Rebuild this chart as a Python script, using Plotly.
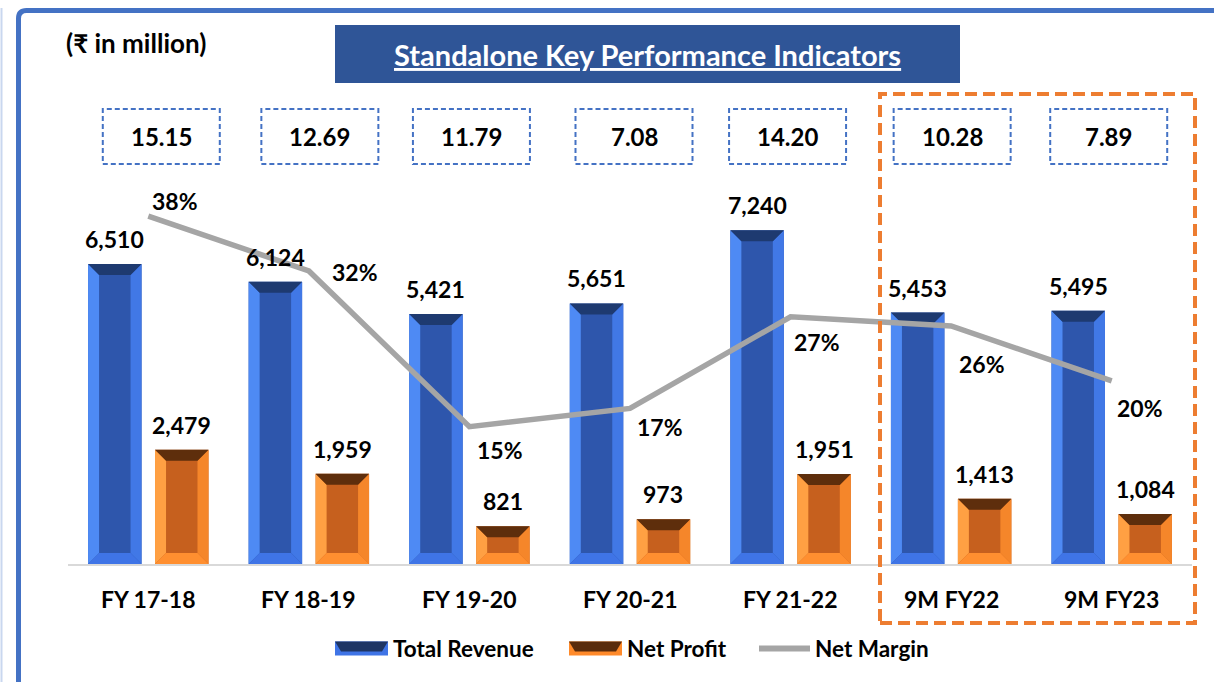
import plotly.graph_objects as go

# ---- data -------------------------------------------------------------
categories = ["FY 17-18", "FY 18-19", "FY 19-20", "FY 20-21", "FY 21-22", "9M FY22", "9M FY23"]
total_revenue = [6510, 6124, 5421, 5651, 7240, 5453, 5495]
net_profit = [2479, 1959, 821, 973, 1951, 1413, 1084]
net_margin_pct = [38, 32, 15, 17, 27, 26, 20]
eps_values = ["15.15", "12.69", "11.79", "7.08", "14.20", "10.28", "7.89"]

# ---- canvas geometry --------------------------------------------------
W, H = 1214, 682
L, R, T, B = 68, 22, 100, 118
PW, PH = W - L - R, H - T - B
Y_MAX = 10065      # revenue axis upper bound
Y2_MAX = 50.68     # margin axis upper bound (percent)
FONT = "Lato, 'Open Sans', sans-serif"

BAR_W = 0.333
REV_OFF, NP_OFF = -0.375, 0.042
BEVEL_PX = 11


def paper_x(px):
    return (px - L) / PW


def paper_y(py):
    return (H - B - py) / PH


idx = list(range(len(categories)))


def bevel_polys(values, offset):
    dx = BEVEL_PX * 7.0 / PW
    dy_full = BEVEL_PX * Y_MAX / PH
    parts = {"top": ([], []), "bottom": ([], []), "left": ([], []), "right": ([], [])}
    for i, h in zip(idx, values):
        x0 = i + offset
        x1 = x0 + BAR_W
        dy = min(dy_full, h * 0.45)
        polys = {
            "top": [(x0, h), (x1, h), (x1 - dx, h - dy), (x0 + dx, h - dy)],
            "bottom": [(x0, 0), (x1, 0), (x1 - dx, dy), (x0 + dx, dy)],
            "left": [(x0, 0), (x0, h), (x0 + dx, h - dy), (x0 + dx, dy)],
            "right": [(x1, 0), (x1, h), (x1 - dx, h - dy), (x1 - dx, dy)],
        }
        for k, pts in polys.items():
            xs, ys = parts[k]
            for px_, py_ in pts + [pts[0]]:
                xs.append(px_)
                ys.append(py_)
            xs.append(None)
            ys.append(None)
    return parts


def bevel_traces(values, offset, colors):
    parts = bevel_polys(values, offset)
    out = []
    for k in ["left", "right", "bottom", "top"]:
        xs, ys = parts[k]
        out.append(go.Scatter(
            x=xs, y=ys, mode="lines", fill="toself", fillcolor=colors[k],
            line=dict(width=0, color=colors[k]), hoverinfo="skip", showlegend=False,
        ))
    return out


REV_COLORS = dict(body="#2E56AC", top="#1E3A70", bottom="#3F74E6", left="#4E8AF4", right="#4178E6")
NP_COLORS = dict(body="#C6601E", top="#5E2E0C", bottom="#FF8F30", left="#FFA043", right="#F5862A")

fig = go.Figure()

fig.add_trace(go.Bar(
    x=idx, y=total_revenue, width=BAR_W, offset=REV_OFF, name="Total Revenue",
    marker=dict(color=REV_COLORS["body"], line=dict(width=0)), hoverinfo="skip", showlegend=False,
))
fig.add_trace(go.Bar(
    x=idx, y=net_profit, width=BAR_W, offset=NP_OFF, name="Net Profit",
    marker=dict(color=NP_COLORS["body"], line=dict(width=0)), hoverinfo="skip", showlegend=False,
))
for tr in bevel_traces(total_revenue, REV_OFF, REV_COLORS):
    fig.add_trace(tr)
for tr in bevel_traces(net_profit, NP_OFF, NP_COLORS):
    fig.add_trace(tr)

fig.add_trace(go.Scatter(
    x=idx, y=net_margin_pct, yaxis="y2", mode="lines", name="Net Margin",
    line=dict(color="#A5A5A5", width=5.5), hoverinfo="skip", showlegend=False,
))

annotations = []
black = dict(family=FONT, size=23, color="#000000")

# value labels over bars
for i, v in zip(idx, total_revenue):
    annotations.append(dict(x=i + REV_OFF + BAR_W / 2, y=v, xref="x", yref="y",
                            text=f"<b>{v:,}</b>", showarrow=False, xanchor="center",
                            yanchor="middle", yshift=25, font=black))
for i, v in zip(idx, net_profit):
    annotations.append(dict(x=i + NP_OFF + BAR_W / 2, y=v, xref="x", yref="y",
                            text=f"<b>{v:,}</b>", showarrow=False, xanchor="center",
                            yanchor="middle", yshift=25, font=black))

# margin labels beside the line points
margin_label_shift = [(27, -15), (46, 1), (31, 23), (30, 19), (26, 25), (31, 38), (28, 27)]
for i, p, (sx, sy) in zip(idx, net_margin_pct, margin_label_shift):
    annotations.append(dict(x=i, y=p, xref="x", yref="y2", text=f"<b>{p}%</b>",
                            showarrow=False, xanchor="center", yanchor="middle",
                            xshift=sx, yshift=-sy, font=black))

# category labels under the baseline
for i, c in zip(idx, categories):
    annotations.append(dict(x=i, y=0, xref="x", yref="y", text=f"<b>{c}</b>",
                            showarrow=False, xanchor="center", yanchor="middle", yshift=-35,
                            font=dict(family=FONT, size=23, color="#000000")))

shapes = []

# dashed boxes with per-share figures
box_nudge_px = [13, 11, 2, 4, -3, 1, -3]
cat_px = [L + PW * (i + 0.5) / len(categories) for i in idx]
for cx, nudge, txt in zip(cat_px, box_nudge_px, eps_values):
    bx = cx + nudge
    shapes.append(dict(type="rect", xref="paper", yref="paper",
                       x0=paper_x(bx - 58.5), x1=paper_x(bx + 58.5),
                       y0=paper_y(164), y1=paper_y(109),
                       line=dict(color="#4472C4", width=2, dash="5px,3px"),
                       fillcolor="rgba(0,0,0,0)"))
    annotations.append(dict(x=paper_x(bx), y=paper_y(136.5), xref="paper", yref="paper",
                            text=f"<b>{txt}</b>", showarrow=False,
                            xanchor="center", yanchor="middle",
                            font=dict(family=FONT, size=24, color="#000000")))

# highlight around the nine-month periods
shapes.append(dict(type="rect", xref="paper", yref="paper",
                   x0=paper_x(880), x1=paper_x(1195), y0=paper_y(623), y1=paper_y(94),
                   line=dict(color="#ED7D31", width=4, dash="12px,6px"),
                   fillcolor="rgba(0,0,0,0)"))

# title banner
shapes.append(dict(type="rect", xref="paper", yref="paper",
                   x0=paper_x(335), x1=paper_x(960), y0=paper_y(83), y1=paper_y(25),
                   line=dict(width=0), fillcolor="#2F5597"))
annotations.append(dict(x=paper_x(647.5), y=paper_y(55), xref="paper", yref="paper",
                        text="<b><u>Standalone Key Performance Indicators</u></b>",
                        showarrow=False, xanchor="center", yanchor="middle",
                        font=dict(family=FONT, size=29, color="#FFFFFF")))

annotations.append(dict(x=paper_x(64), y=paper_y(43), xref="paper", yref="paper",
                        text="<b>(₹ in million)</b>", showarrow=False, xanchor="left",
                        yanchor="middle",
                        font=dict(family=FONT, size=26, color="#000000")))

# outer frame
fx0, fy0, fx1, fy1, rad = 18.5, 10.5, 1260, 720, 8
frame_path = (f"M {paper_x(fx0)},{paper_y(fy1)} L {paper_x(fx0)},{paper_y(fy0 + rad)} "
              f"Q {paper_x(fx0)},{paper_y(fy0)} {paper_x(fx0 + rad)},{paper_y(fy0)} "
              f"L {paper_x(fx1)},{paper_y(fy0)}")
shapes.append(dict(type="path", xref="paper", yref="paper", path=frame_path,
                   line=dict(color="#4472C4", width=5)))
shapes.append(dict(type="line", xref="paper", yref="paper",
                   x0=paper_x(1.5), x1=paper_x(1.5), y0=paper_y(8), y1=paper_y(700),
                   line=dict(color="#C9D7EF", width=2)))

# legend
def legend_block(x0, x1, yc, top_col, low_col):
    h = 7
    shapes.append(dict(type="rect", xref="paper", yref="paper",
                       x0=paper_x(x0), x1=paper_x(x1), y0=paper_y(yc + h), y1=paper_y(yc - h),
                       line=dict(width=0), fillcolor=low_col))
    p = (f"M {paper_x(x0)},{paper_y(yc - h)} L {paper_x(x1)},{paper_y(yc - h)} "
         f"L {paper_x(x1 - 6)},{paper_y(yc + 3)} L {paper_x(x0 + 6)},{paper_y(yc + 3)} Z")
    shapes.append(dict(type="path", xref="paper", yref="paper", path=p,
                       line=dict(width=0), fillcolor=top_col))


LEG_Y = 648.5
legend_block(335, 388, LEG_Y, "#1E3564", "#3F74E6")
legend_block(569, 622, LEG_Y, "#5A2C0C", "#FF8A2A")
shapes.append(dict(type="line", xref="paper", yref="paper",
                   x0=paper_x(759), x1=paper_x(810), y0=paper_y(LEG_Y), y1=paper_y(LEG_Y),
                   line=dict(color="#A5A5A5", width=6)))
for lx, txt in [(391, "Total Revenue"), (625, "Net Profit"), (813, "Net Margin")]:
    annotations.append(dict(x=paper_x(lx), y=paper_y(LEG_Y), xref="paper", yref="paper",
                            text=f"<b>{txt}</b>", showarrow=False, xanchor="left",
                            yanchor="middle",
                            font=dict(family=FONT, size=22.5, color="#000000")))

fig.update_layout(
    width=W, height=H,
    margin=dict(l=L, r=R, t=T, b=B, pad=0),
    paper_bgcolor="#FFFFFF", plot_bgcolor="#FFFFFF",
    barmode="overlay",
    showlegend=False,
    xaxis=dict(range=[-0.5, len(categories) - 0.5], showticklabels=False, showgrid=False,
               zeroline=False, showline=True, linecolor="#D9D9D9", linewidth=1.5,
               ticks="", fixedrange=True),
    yaxis=dict(range=[0, Y_MAX], visible=False, showgrid=False, zeroline=False),
    yaxis2=dict(range=[0, Y2_MAX], overlaying="y", side="right", visible=False,
                showgrid=False, zeroline=False),
    annotations=annotations,
    shapes=shapes,
    font=dict(family=FONT),
)

fig.write_html("out.html")
